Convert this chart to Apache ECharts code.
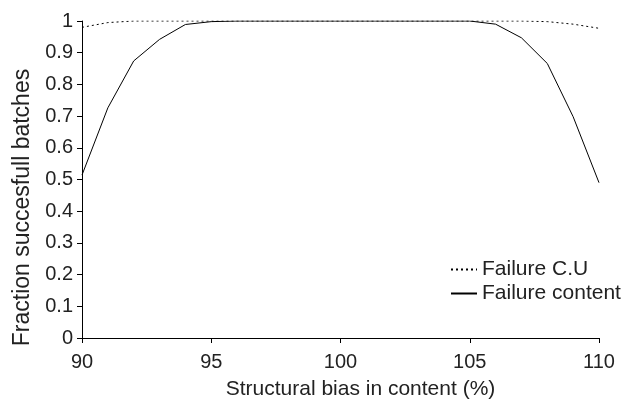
<!DOCTYPE html>
<html><head><meta charset="utf-8">
<script src="https://cdn.jsdelivr.net/npm/echarts@6/dist/echarts.min.js"></script>
<style>html,body{margin:0;padding:0;background:#fff}#c{width:623px;height:400px}</style>
</head><body><div id="c"></div>
<script>
var bias = [90,91,92,93,94,95,96,97,98,99,100,101,102,103,104,105,106,107,108,109,110];
var failureCU = [0.98,0.995,1,1,1,1,1,1,1,1,1,1,1,1,1,1,1,1,0.998,0.99,0.977];
var failureContent = [0.514,0.726,0.874,0.942,0.989,0.998,1,1,1,1,1,1,1,1,1,1,0.99,0.947,0.866,0.698,0.49];
var font = 'Liberation Sans, Arial, sans-serif';
var fs = 20;
var chart = echarts.init(document.getElementById('c'));
function pairs(xs, ys){return xs.map(function(x,i){return [x, ys[i]];});}
chart.setOption({
  animation:false,
  grid:{left:82,right:24,top:21,bottom:62,outerBoundsMode:'none',containLabel:false},
  xAxis:{type:'value',min:90,max:110,interval:5,
    name:'Structural bias in content (%)',nameLocation:'middle',nameGap:41,
    nameTextStyle:{fontFamily:font,fontSize:21,color:'#222',padding:[0,0,0,40]},
    axisLine:{lineStyle:{color:'#000',width:1}},
    axisTick:{show:true,length:5,lineStyle:{color:'#000'}},
    axisLabel:{fontFamily:font,fontSize:fs,color:'#222',margin:14},
    splitLine:{show:false}},
  yAxis:{type:'value',min:0,max:1,interval:0.1,
    name:'Fraction succesfull batches',nameLocation:'middle',nameGap:47,
    nameTextStyle:{fontFamily:font,fontSize:23,color:'#222',padding:[0,56,0,0]},
    axisLine:{show:true,lineStyle:{color:'#000',width:1}},
    axisTick:{show:true,length:5,lineStyle:{color:'#000'}},
    axisLabel:{fontFamily:font,fontSize:fs,color:'#222',margin:9},
    splitLine:{show:false}},
  legend:{orient:'vertical',left:445,top:254,itemWidth:26,itemHeight:14,itemGap:3,
    itemStyle:{opacity:0},
    textStyle:{fontFamily:font,fontSize:21,color:'#222'},
    data:['Failure C.U','Failure content']},
  series:[
    {name:'Failure C.U',type:'line',data:pairs(bias,failureCU),symbol:'none',
      lineStyle:{color:'#000',width:1,type:[2,3]},itemStyle:{color:'#000'}},
    {name:'Failure content',type:'line',data:pairs(bias,failureContent),symbol:'none',
      lineStyle:{color:'#000',width:1,type:'solid'},itemStyle:{color:'#000'}}
  ]
});
</script></body></html>
